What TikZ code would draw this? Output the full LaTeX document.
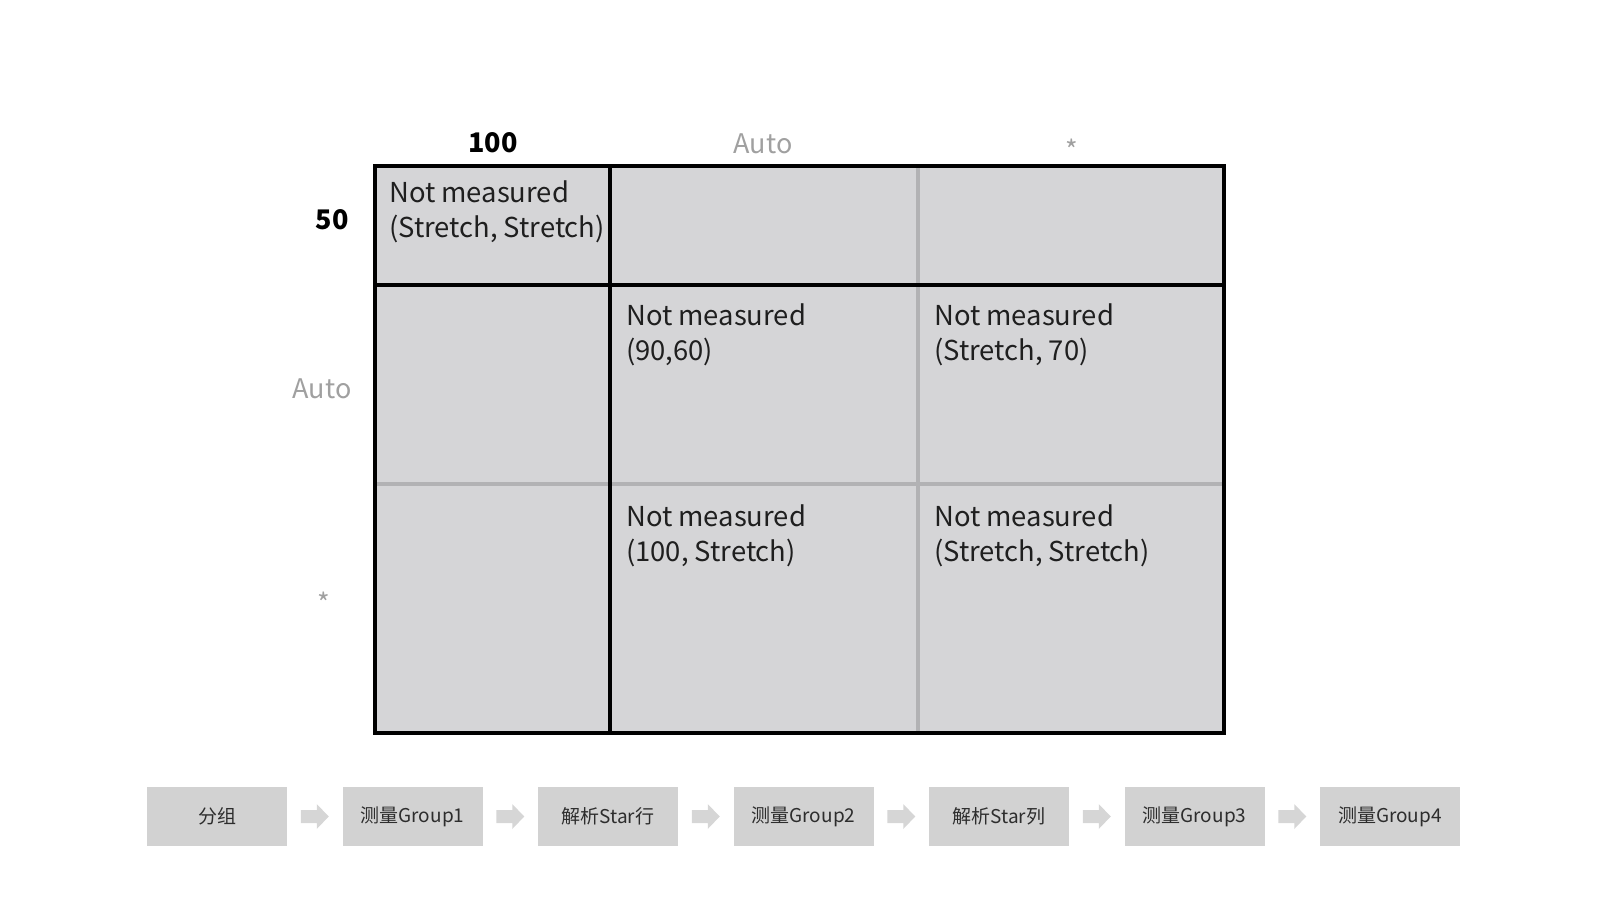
\documentclass[tikz,border=0pt]{standalone}
\usepackage{fontspec}
\setmainfont{Noto Sans CJK SC}
\usetikzlibrary{calc}
\definecolor{cellgray}{RGB}{213,213,215}
\definecolor{linegray}{RGB}{178,178,180}
\definecolor{boxgray}{RGB}{210,210,210}
\definecolor{arrowgray}{RGB}{214,214,214}
\definecolor{textgray}{RGB}{45,45,45}
\definecolor{labelgray}{RGB}{160,160,160}
\begin{document}
\begin{tikzpicture}[x=1pt,y=-1pt,
  cell/.style={anchor=base west, inner sep=0pt, align=left, font=\fontsize{27.4}{35}\selectfont, text=black!88},
  hdrb/.style={inner sep=0pt, font=\fontsize{27}{32}\selectfont\bfseries, text=black},
  hdrg/.style={inner sep=0pt, font=\fontsize{27}{32}\selectfont, text=labelgray},
  stepbox/.style={fill=boxgray, minimum width=140pt, minimum height=59pt, inner sep=0pt, font=\fontsize{19}{22}\selectfont, text=textgray},
  flowarrow/.pic={\fill[arrowgray] (-14,-6.5) -- (2,-6.5) -- (2,-12.5) -- (14,0) -- (2,12.5) -- (2,6.5) -- (-14,6.5) -- cycle;}
]
\useasboundingbox (0,0) rectangle (1600,900);
% grid
\fill[cellgray] (375,166) rectangle (1224,733);
\draw[linegray, line width=4pt] (918,166) -- (918,733);
\draw[linegray, line width=4pt] (375,484) -- (1224,484);
\draw[black, line width=4pt] (610,166) -- (610,733);
\draw[black, line width=4pt] (375,285) -- (1224,285);
\draw[black, line width=4pt] (375,166) rectangle (1224,733);
% headers
\node[hdrb] (h100) at (493,143) {100};
\node[hdrg] (hauto) at (763,144) {Auto};
\node[hdrg] (hstar) at (1072,150) {*};
\node[hdrb] (r50) at (332,220) {50};
\node[hdrg] (rauto) at (322,389) {Auto};
\node[hdrg] (rstar) at (324,603) {*};
% cells (anchor = baseline of the last line)
\node[cell] (c00) at (389,237) {Not measured\\(Stretch, Stretch)};
\node[cell] (c11) at (626,360) {Not measured\\(90,60)};
\node[cell] (c12) at (934,360) {Not measured\\(Stretch, 70)};
\node[cell] (c21) at (626,561) {Not measured\\(100, Stretch)};
\node[cell] (c22) at (934,561) {Not measured\\(Stretch, Stretch)};
% flow
\node[stepbox] (b1) at (217,816.5) {分组};
\node[stepbox] (b2) at (412.5,816.5) {测量Group1};
\node[stepbox] (b3) at (608,816.5) {解析Star行};
\node[stepbox] (b4) at (803.5,816.5) {测量Group2};
\node[stepbox] (b5) at (999,816.5) {解析Star列};
\node[stepbox] (b6) at (1194.5,816.5) {测量Group3};
\node[stepbox] (b7) at (1390,816.5) {测量Group4};
\foreach \a/\b in {b1/b2,b2/b3,b3/b4,b4/b5,b5/b6,b6/b7}
  \pic at ($(\a.east)!0.5!(\b.west)$) {flowarrow};
\end{tikzpicture}
\end{document}
